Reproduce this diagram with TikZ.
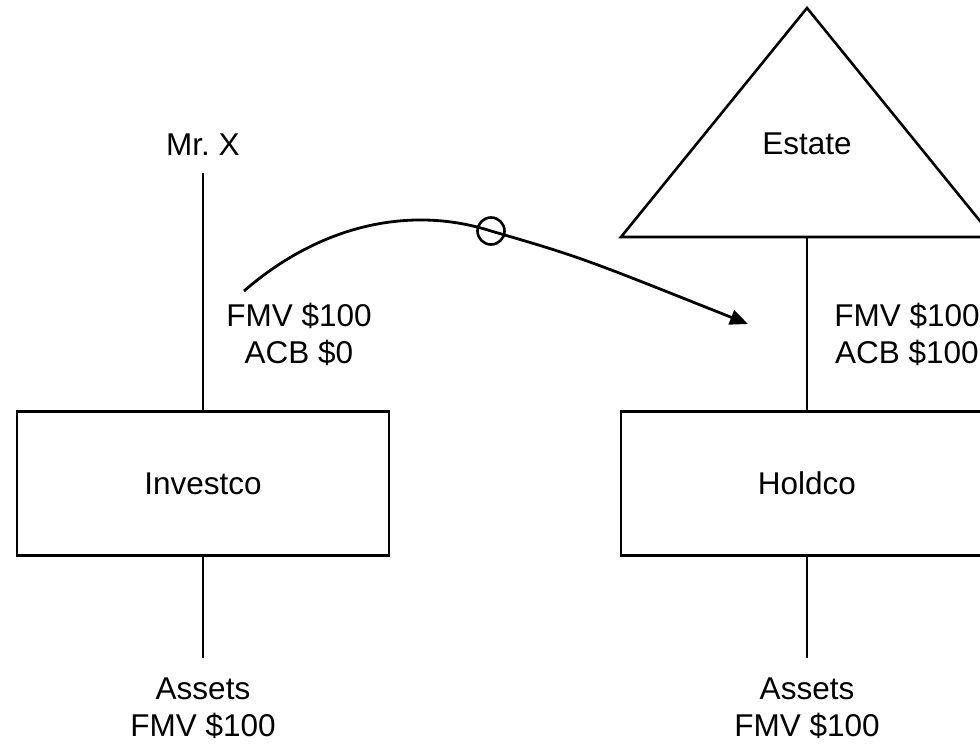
\documentclass[tikz,border=0pt]{standalone}
\usepackage{fontspec}
\setmainfont{Liberation Sans}
\usetikzlibrary{arrows.meta}
\begin{document}
\begin{tikzpicture}[x=1pt,y=-1pt,
  every node/.style={font=\fontsize{31.5}{37}\selectfont, inner sep=0pt},
  entity/.style={draw, line width=2.6pt, minimum width=372pt, minimum height=144pt},
  tie/.style={line width=2.6pt},
  label/.style={align=center, anchor=base},
  transfer/.style={line width=2.8pt, -{Triangle[length=18pt,width=15pt]}}]
  \useasboundingbox (0,0) rectangle (980,746);
  \clip (0,0) rectangle (980,746);

  % corporations
  \node[entity] (investco) at (203,483.5) {Investco};
  \node[entity] (holdco) at (807,483.5) {Holdco};

  % estate triangle
  \coordinate (apex) at (807,8);
  \coordinate (baseL) at (621,237);
  \coordinate (baseR) at (993,237);
  \coordinate (estatefoot) at (807,237);
  \draw[tie, line join=miter] (apex) -- (baseL) -- (baseR) -- cycle;
  \node[label] (estate) at (807,155) {Estate};

  % shareholders
  \node[label] (mrx) at (203,156) {Mr.\ X};
  \coordinate (mrxfoot) at (203,173);
  \draw[tie] (mrxfoot) -- (investco.north);
  \draw[tie] (estatefoot) -- (holdco.north);

  % share values (anchored on the baseline of the last line)
  \node[label] (sharesL) at (299,363) {FMV \$100\\ACB \$0};
  \node[label] (sharesR) at (907,363) {FMV \$100\\ACB \$100};

  % underlying assets
  \coordinate (assetsL) at (203,658);
  \coordinate (assetsR) at (807,658);
  \draw[tie] (investco.south) -- (assetsL);
  \draw[tie] (holdco.south) -- (assetsR);
  \node[label] (assetstextL) at (203,736) {Assets\\FMV \$100};
  \node[label] (assetstextR) at (807,736) {Assets\\FMV \$100};

  % transfer of shares
  \coordinate (from) at (244,291);
  \coordinate (to) at (748,324);
  \node[draw, circle, line width=2.6pt, minimum size=27pt] (mark) at (491,231) {};
  \draw[transfer] (from) .. controls (320,225) and (410,205) .. (mark.center)
                  .. controls (580,257) .. (to);
\end{tikzpicture}
\end{document}
